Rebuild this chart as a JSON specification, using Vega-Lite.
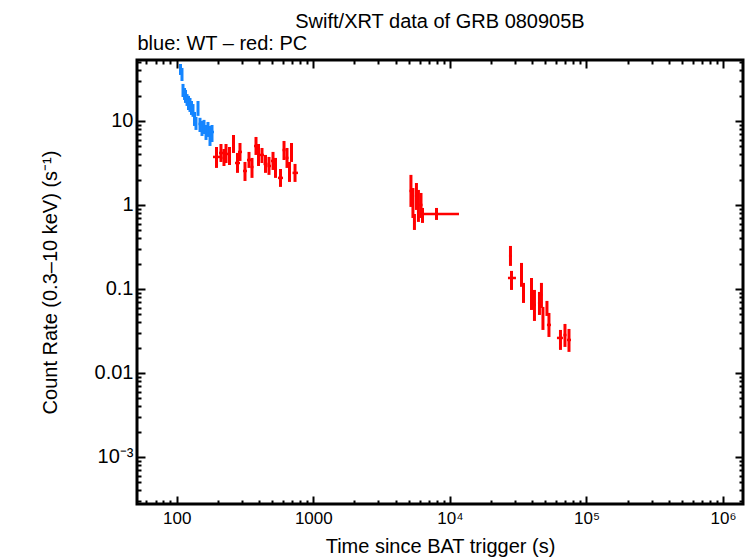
{
  "$schema": "https://vega.github.io/schema/vega-lite/v6.json",
  "autosize": "none",
  "padding": {"left": 137, "top": 60, "right": 11, "bottom": 54},
  "width": 606,
  "height": 444,
  "background": "white",
  "config": {
    "font": "Liberation Sans",
    "view": {"stroke": "black", "strokeWidth": 3},
    "axis": {
      "domain": false,
      "grid": false,
      "labelFont": "Liberation Sans",
      "titleFont": "Liberation Sans",
      "labelColor": "black",
      "titleColor": "black",
      "tickColor": "black",
      "tickWidth": 2,
      "labelFontSize": 17,
      "titleFontSize": 20,
      "titleFontWeight": "normal",
      "labelOverlap": false,
      "labelFlush": false
    }
  },
  "title": {
    "text": "Swift/XRT data of GRB 080905B",
    "font": "Liberation Sans",
    "fontSize": 20,
    "fontWeight": "normal",
    "color": "black",
    "anchor": "middle",
    "offset": 1
  },
  "data": {
    "values": [
      {"mode": "WT", "t": 106.6, "tlo": 105.7, "thi": 107.5, "r": 41.6, "rlo": 35.3, "rhi": 47.7},
      {"mode": "WT", "t": 109.3, "tlo": 107.5, "thi": 111.2, "r": 36.3, "rlo": 29.9, "rhi": 42.8},
      {"mode": "WT", "t": 111.2, "tlo": 109.3, "thi": 113.1, "r": 23.4, "rlo": 19.3, "rhi": 27.6},
      {"mode": "WT", "t": 114.1, "tlo": 112.2, "thi": 116.0, "r": 20.9, "rlo": 17.8, "rhi": 24.7},
      {"mode": "WT", "t": 116.0, "tlo": 114.1, "thi": 118.0, "r": 19.9, "rlo": 16.4, "rhi": 23.4},
      {"mode": "WT", "t": 119.0, "tlo": 117.0, "thi": 120.9, "r": 17.8, "rlo": 15.1, "rhi": 20.9},
      {"mode": "WT", "t": 122.0, "tlo": 120.0, "thi": 124.0, "r": 16.4, "rlo": 13.5, "rhi": 19.9},
      {"mode": "WT", "t": 125.1, "tlo": 123.0, "thi": 127.2, "r": 15.9, "rlo": 12.8, "rhi": 18.8},
      {"mode": "WT", "t": 128.3, "tlo": 126.2, "thi": 130.5, "r": 14.3, "rlo": 11.8, "rhi": 17.3},
      {"mode": "WT", "t": 131.6, "tlo": 129.4, "thi": 133.8, "r": 13.5, "rlo": 11.2, "rhi": 15.9},
      {"mode": "WT", "t": 135.0, "tlo": 132.7, "thi": 137.3, "r": 10.3, "rlo": 8.72, "rhi": 12.8},
      {"mode": "WT", "t": 138.4, "tlo": 136.1, "thi": 140.8, "r": 9.47, "rlo": 7.82, "rhi": 11.2},
      {"mode": "WT", "t": 143.2, "tlo": 140.8, "thi": 145.6, "r": 13.9, "rlo": 11.5, "rhi": 17.3},
      {"mode": "WT", "t": 148.1, "tlo": 144.4, "thi": 151.9, "r": 9.21, "rlo": 7.39, "rhi": 10.9},
      {"mode": "WT", "t": 153.2, "tlo": 149.3, "thi": 157.1, "r": 8.26, "rlo": 6.63, "rhi": 10.0},
      {"mode": "WT", "t": 158.4, "tlo": 154.5, "thi": 162.5, "r": 8.49, "rlo": 7.00, "rhi": 10.3},
      {"mode": "WT", "t": 163.9, "tlo": 158.4, "thi": 169.4, "r": 7.39, "rlo": 5.94, "rhi": 8.96},
      {"mode": "WT", "t": 169.4, "tlo": 163.9, "thi": 175.3, "r": 8.03, "rlo": 6.45, "rhi": 9.73},
      {"mode": "WT", "t": 175.3, "tlo": 169.4, "thi": 184.4, "r": 7.00, "rlo": 5.04, "rhi": 8.72},
      {"mode": "WT", "t": 181.3, "tlo": 175.3, "thi": 187.5, "r": 7.39, "rlo": 5.62, "rhi": 8.96},
      {"mode": "PC", "t": 195.5, "tlo": 184.4, "thi": 207.4, "r": 3.73, "rlo": 2.76, "rhi": 4.90},
      {"mode": "PC", "t": 210.9, "tlo": 203.9, "thi": 218.2, "r": 4.16, "rlo": 3.25, "rhi": 5.32},
      {"mode": "PC", "t": 221.9, "tlo": 216.4, "thi": 227.6, "r": 3.63, "rlo": 2.91, "rhi": 4.64},
      {"mode": "PC", "t": 229.6, "tlo": 225.7, "thi": 237.4, "r": 4.05, "rlo": 3.16, "rhi": 5.32},
      {"mode": "PC", "t": 243.5, "tlo": 237.4, "thi": 249.8, "r": 3.83, "rlo": 2.99, "rhi": 4.90},
      {"mode": "PC", "t": 260.5, "tlo": 254.0, "thi": 267.2, "r": 5.32, "rlo": 4.16, "rhi": 6.81},
      {"mode": "PC", "t": 278.6, "tlo": 267.2, "thi": 290.6, "r": 3.16, "rlo": 2.41, "rhi": 4.16},
      {"mode": "PC", "t": 290.6, "tlo": 281.0, "thi": 300.6, "r": 4.28, "rlo": 3.34, "rhi": 5.47},
      {"mode": "PC", "t": 316.2, "tlo": 305.8, "thi": 327.1, "r": 2.54, "rlo": 1.93, "rhi": 3.25},
      {"mode": "PC", "t": 338.3, "tlo": 327.1, "thi": 349.9, "r": 3.43, "rlo": 2.76, "rhi": 4.28},
      {"mode": "PC", "t": 355.8, "tlo": 346.9, "thi": 365.0, "r": 2.83, "rlo": 2.10, "rhi": 3.63},
      {"mode": "PC", "t": 380.7, "tlo": 368.1, "thi": 390.5, "r": 5.04, "rlo": 3.94, "rhi": 6.45},
      {"mode": "PC", "t": 397.2, "tlo": 390.5, "thi": 403.9, "r": 3.94, "rlo": 2.91, "rhi": 5.32},
      {"mode": "PC", "t": 421.2, "tlo": 407.2, "thi": 435.6, "r": 3.94, "rlo": 3.16, "rhi": 4.77},
      {"mode": "PC", "t": 446.8, "tlo": 432.0, "thi": 462.1, "r": 3.08, "rlo": 2.41, "rhi": 3.94},
      {"mode": "PC", "t": 473.9, "tlo": 462.1, "thi": 490.2, "r": 2.91, "rlo": 2.28, "rhi": 3.73},
      {"mode": "PC", "t": 507.1, "tlo": 490.2, "thi": 524.5, "r": 3.34, "rlo": 2.61, "rhi": 4.28},
      {"mode": "PC", "t": 529.0, "tlo": 515.7, "thi": 542.5, "r": 2.76, "rlo": 2.10, "rhi": 3.63},
      {"mode": "PC", "t": 575.5, "tlo": 551.7, "thi": 600.2, "r": 2.10, "rlo": 1.64, "rhi": 2.68},
      {"mode": "PC", "t": 610.4, "tlo": 595.2, "thi": 626.0, "r": 4.51, "rlo": 3.43, "rhi": 5.78},
      {"mode": "PC", "t": 642.0, "tlo": 626.0, "thi": 658.5, "r": 3.63, "rlo": 2.76, "rhi": 4.77},
      {"mode": "PC", "t": 669.7, "tlo": 658.5, "thi": 681.1, "r": 2.47, "rlo": 1.88, "rhi": 3.25},
      {"mode": "PC", "t": 692.7, "tlo": 681.1, "thi": 704.5, "r": 4.28, "rlo": 3.25, "rhi": 5.47},
      {"mode": "PC", "t": 735.0, "tlo": 704.5, "thi": 772.9, "r": 2.41, "rlo": 1.88, "rhi": 3.08},
      {"mode": "PC", "t": 5187, "tlo": 5058, "thi": 5320, "r": 1.468, "rlo": 0.947, "rhi": 2.28},
      {"mode": "PC", "t": 5365, "tlo": 5275, "thi": 5456, "r": 1.056, "rlo": 0.700, "rhi": 1.59},
      {"mode": "PC", "t": 5502, "tlo": 5456, "thi": 5596, "r": 0.628, "rlo": 0.504, "rhi": 0.781},
      {"mode": "PC", "t": 5691, "tlo": 5549, "thi": 5837, "r": 1.280, "rlo": 0.872, "rhi": 1.827},
      {"mode": "PC", "t": 5886, "tlo": 5788, "thi": 5986, "r": 1.0, "rlo": 0.628, "rhi": 1.509},
      {"mode": "PC", "t": 6146, "tlo": 5986, "thi": 6303, "r": 1.0, "rlo": 0.700, "rhi": 1.389},
      {"mode": "PC", "t": 6303, "tlo": 6198, "thi": 6410, "r": 0.760, "rlo": 0.611, "rhi": 0.921},
      {"mode": "PC", "t": 7981, "tlo": 6410, "thi": 11660, "r": 0.781, "rlo": 0.663, "rhi": 0.921},
      {"mode": "PC", "t": 27775, "tlo": 27080, "thi": 28490, "r": 0.247, "rlo": 0.188, "rhi": 0.325},
      {"mode": "PC", "t": 28250, "tlo": 26627, "thi": 30474, "r": 0.135, "rlo": 0.0973, "rhi": 0.164},
      {"mode": "PC", "t": 33440, "tlo": 32880, "thi": 34010, "r": 0.147, "rlo": 0.106, "rhi": 0.204},
      {"mode": "PC", "t": 34590, "tlo": 34010, "thi": 35470, "r": 0.0921, "rlo": 0.0681, "rhi": 0.118},
      {"mode": "PC", "t": 39577, "tlo": 38915, "thi": 40243, "r": 0.0872, "rlo": 0.0562, "rhi": 0.135},
      {"mode": "PC", "t": 41618, "tlo": 40243, "thi": 42683, "r": 0.0645, "rlo": 0.0416, "rhi": 0.0973},
      {"mode": "PC", "t": 45275, "tlo": 44146, "thi": 46430, "r": 0.0681, "rlo": 0.0490, "rhi": 0.0921},
      {"mode": "PC", "t": 46820, "tlo": 46044, "thi": 47620, "r": 0.0848, "rlo": 0.0594, "rhi": 0.118},
      {"mode": "PC", "t": 48025, "tlo": 47220, "thi": 48843, "r": 0.0452, "rlo": 0.0325, "rhi": 0.0611},
      {"mode": "PC", "t": 51380, "tlo": 50520, "thi": 52253, "r": 0.0594, "rlo": 0.0477, "rhi": 0.0720},
      {"mode": "PC", "t": 53140, "tlo": 51380, "thi": 54960, "r": 0.0373, "rlo": 0.0268, "rhi": 0.0518},
      {"mode": "PC", "t": 64520, "tlo": 60820, "thi": 67290, "r": 0.0261, "rlo": 0.0188, "rhi": 0.0325},
      {"mode": "PC", "t": 69620, "tlo": 67860, "thi": 71410, "r": 0.0283, "rlo": 0.0204, "rhi": 0.0383},
      {"mode": "PC", "t": 74490, "tlo": 72020, "thi": 77050, "r": 0.0247, "rlo": 0.0178, "rhi": 0.0334}
    ]
  },
  "layer": [
    {
      "mark": {"type": "rule", "strokeWidth": 2.5},
      "encoding": {
        "x": {
          "field": "tlo",
          "type": "quantitative",
          "scale": {"type": "log", "domain": [51.2, 1400000], "nice": false},
          "axis": {
            "orient": "bottom",
            "title": "Time since BAT trigger (s)",
            "values": [60, 70, 80, 90, 100, 200, 300, 400, 500, 600, 700, 800, 900, 1000, 2000, 3000, 4000, 5000, 6000, 7000, 8000, 9000, 10000, 20000, 30000, 40000, 50000, 60000, 70000, 80000, 90000, 100000, 200000, 300000, 400000, 500000, 600000, 700000, 800000, 900000, 1000000],
            "labelExpr": "datum.value == 100 ? '100' : datum.value == 1000 ? '1000' : datum.value == 10000 ? '10⁴' : datum.value == 100000 ? '10⁵' : datum.value == 1000000 ? '10⁶' : ''",
            "tickSize": {"condition": {"test": "indexof([100, 1000, 10000, 100000, 1000000], datum.value) >= 0", "value": -8}, "value": -4},
            "labelPadding": 14,
            "titlePadding": 6
          }
        },
        "x2": {"field": "thi"},
        "y": {
          "field": "r",
          "type": "quantitative",
          "scale": {"type": "log", "domain": [0.000275, 53.2], "nice": false},
          "axis": {
            "orient": "left",
            "title": "Count Rate (0.3–10 keV) (s⁻¹)",
            "values": [0.0003, 0.0004, 0.0005, 0.0006, 0.0007, 0.0008, 0.0009, 0.001, 0.002, 0.003, 0.004, 0.005, 0.006, 0.007, 0.008, 0.009, 0.01, 0.02, 0.03, 0.04, 0.05, 0.06, 0.07, 0.08, 0.09, 0.1, 0.2, 0.3, 0.4, 0.5, 0.6, 0.7, 0.8, 0.9, 1, 2, 3, 4, 5, 6, 7, 8, 9, 10, 20, 30, 40, 50],
            "labelExpr": "datum.value == 0.001 ? '10⁻³' : datum.value == 0.01 ? '0.01' : datum.value == 0.1 ? '0.1' : datum.value == 1 ? '1' : datum.value == 10 ? '10' : ''",
            "tickSize": {"condition": {"test": "indexof([0.001, 0.01, 0.1, 1, 10], datum.value) >= 0", "value": -8}, "value": -4},
            "labelFontSize": 20,
            "labelPadding": 12,
            "titlePadding": 34
          }
        },
        "color": {
          "field": "mode",
          "type": "nominal",
          "scale": {"domain": ["WT", "PC"], "range": ["#1485ff", "#ff0000"]},
          "legend": null
        }
      }
    },
    {
      "mark": {"type": "rule", "strokeWidth": 3},
      "encoding": {
        "x": {
          "field": "t",
          "type": "quantitative",
          "axis": {
            "orient": "top",
            "title": "blue: WT – red: PC",
            "titleAnchor": "start",
            "titleAlign": "left",
            "labels": false,
            "values": [60, 70, 80, 90, 100, 200, 300, 400, 500, 600, 700, 800, 900, 1000, 2000, 3000, 4000, 5000, 6000, 7000, 8000, 9000, 10000, 20000, 30000, 40000, 50000, 60000, 70000, 80000, 90000, 100000, 200000, 300000, 400000, 500000, 600000, 700000, 800000, 900000, 1000000],
            "tickSize": {"condition": {"test": "indexof([100, 1000, 10000, 100000, 1000000], datum.value) >= 0", "value": -8}, "value": -4},
            "titlePadding": 6
          }
        },
        "y": {
          "field": "rlo",
          "type": "quantitative",
          "axis": {
            "orient": "right",
            "title": null,
            "labels": false,
            "values": [0.0003, 0.0004, 0.0005, 0.0006, 0.0007, 0.0008, 0.0009, 0.001, 0.002, 0.003, 0.004, 0.005, 0.006, 0.007, 0.008, 0.009, 0.01, 0.02, 0.03, 0.04, 0.05, 0.06, 0.07, 0.08, 0.09, 0.1, 0.2, 0.3, 0.4, 0.5, 0.6, 0.7, 0.8, 0.9, 1, 2, 3, 4, 5, 6, 7, 8, 9, 10, 20, 30, 40, 50],
            "tickSize": {"condition": {"test": "indexof([0.001, 0.01, 0.1, 1, 10], datum.value) >= 0", "value": -8}, "value": -4}
          }
        },
        "y2": {"field": "rhi"},
        "color": {
          "field": "mode",
          "type": "nominal",
          "scale": {"domain": ["WT", "PC"], "range": ["#1485ff", "#ff0000"]},
          "legend": null
        }
      }
    }
  ],
  "resolve": {"axis": {"x": "independent", "y": "independent"}}
}
